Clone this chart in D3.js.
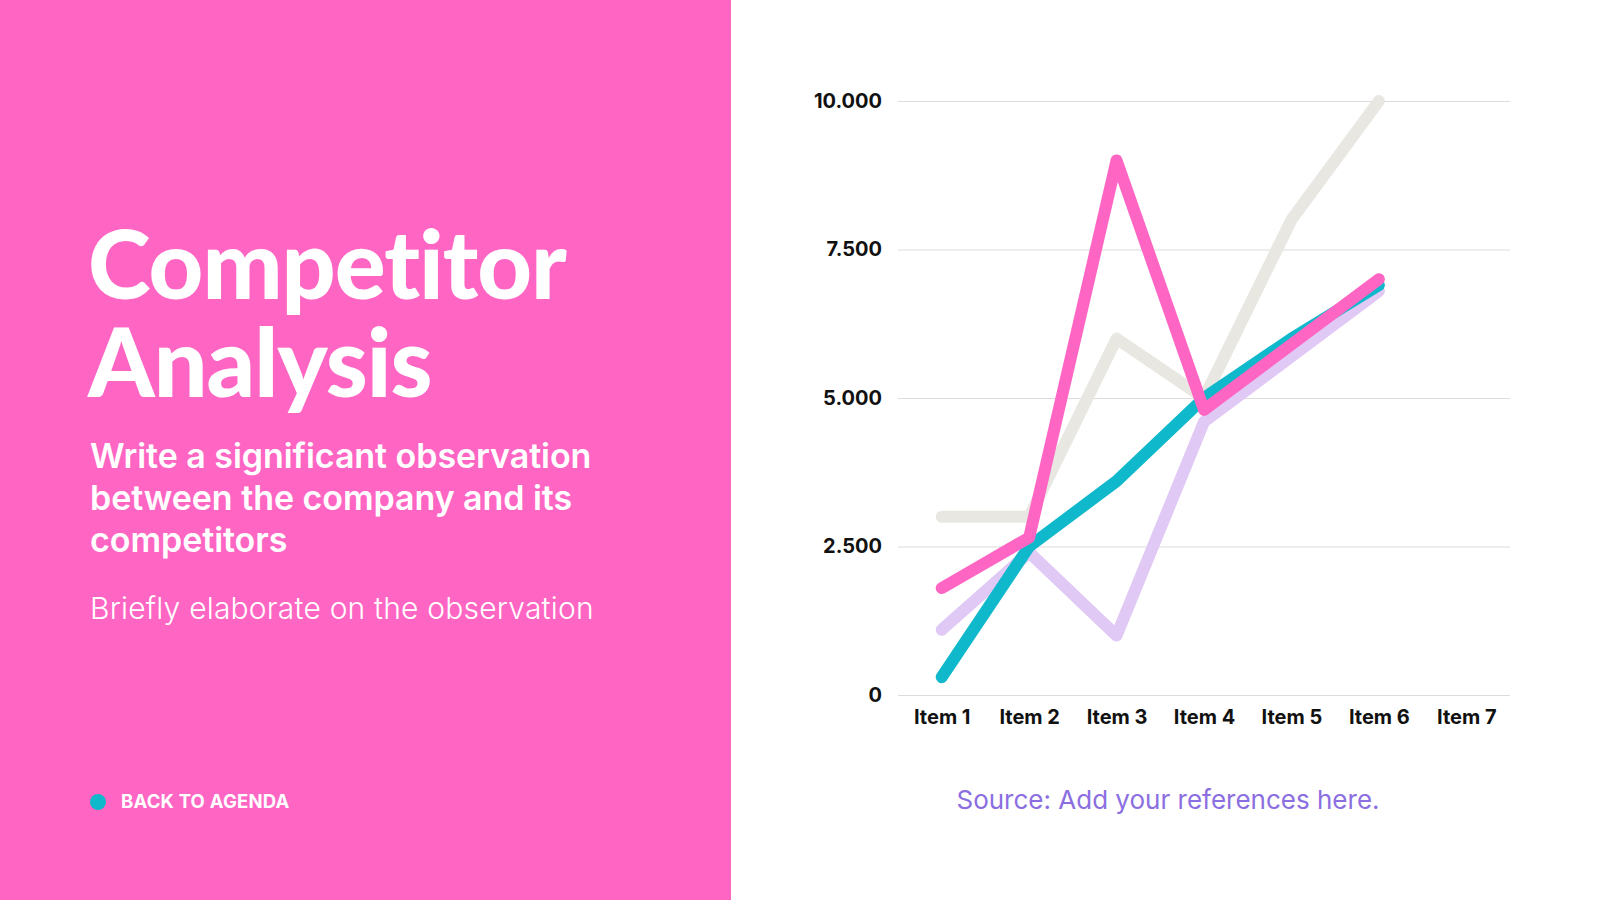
<!DOCTYPE html>
<html lang="en">
  <head>
    <meta charset="UTF-8" />
    <title>Competitor Analysis</title>
    <script src="https://d3js.org/d3.v7.min.js"></script>
    <style>
      html,
      body {
        margin: 0;
        padding: 0;
        background: #ffffff;
      }
      svg {
        display: block;
      }
      .axis text {
        font-family: Inter, "Liberation Sans", sans-serif;
        font-weight: 700;
        font-size: 20px;
        fill: #111111;
      }
      .grid line {
        stroke: #dcdcdc;
        stroke-width: 1.2px;
      }
      .series {
        fill: none;
        stroke-width: 12px;
        stroke-linecap: round;
        stroke-linejoin: round;
      }
    </style>
  </head>
  <body>
    <svg id="chart" width="1600" height="900"></svg>

    <script>
      // chart data
      const categories = ["Item 1", "Item 2", "Item 3", "Item 4", "Item 5", "Item 6", "Item 7"];
      const yTicks = [0, 2500, 5000, 7500, 10000];
      const seriesGray = [3000, 3000, 6000, 5000, 8000, 10000];
      const seriesLavender = [1100, 2400, 1000, 4600, 5700, 6800];
      const seriesCyan = [300, 2500, 3600, 5000, 6000, 6900];
      const seriesPink = [1800, 2650, 9000, 4800, 5900, 7000];

      const series = [
        { name: "gray", values: seriesGray, color: "#e9e7e2" },
        { name: "lavender", values: seriesLavender, color: "#e0c9f5" },
        { name: "cyan", values: seriesCyan, color: "#10b8cc" },
        { name: "pink", values: seriesPink, color: "#ff66c4" },
      ];

      const svg = d3.select("#chart");

      // left panel
      svg.append("rect")
        .attr("x", 0)
        .attr("y", 0)
        .attr("width", 731)
        .attr("height", 900)
        .attr("fill", "#ff66c4");

      const title = svg.append("text")
        .attr("fill", "#ffffff")
        .style("font-family", "Lato, 'Open Sans', sans-serif")
        .style("font-weight", 900)
        .style("font-size", "95px")
        .style("letter-spacing", "-1px");
      title.append("tspan").attr("x", 88).attr("y", 299).text("Competitor");
      title.append("tspan").attr("x", 88).attr("y", 397).text("Analysis");

      const sub = svg.append("text")
        .attr("fill", "#ffffff")
        .style("font-family", "Inter, 'Open Sans', sans-serif")
        .style("font-weight", 600)
        .style("font-size", "34px")
        .style("letter-spacing", "-0.05px");
      ["Write a significant observation", "between the company and its", "competitors"].forEach((t, i) => {
        sub.append("tspan").attr("x", 90).attr("y", 468 + i * 42).text(t);
      });

      svg.append("text")
        .attr("x", 90)
        .attr("y", 619)
        .attr("fill", "#ffffff")
        .style("font-family", "Inter, 'Open Sans', sans-serif")
        .style("font-weight", 300)
        .style("font-size", "30px")
        .style("letter-spacing", "0.2px")
        .text("Briefly elaborate on the observation");

      svg.append("circle")
        .attr("cx", 98)
        .attr("cy", 802)
        .attr("r", 8)
        .attr("fill", "#10b8cc");

      svg.append("text")
        .attr("x", 121)
        .attr("y", 808)
        .attr("fill", "#ffffff")
        .style("font-family", "Inter, 'Open Sans', sans-serif")
        .style("font-weight", 700)
        .style("font-size", "18.5px")
        .style("letter-spacing", "0.2px")
        .text("BACK TO AGENDA");

      // chart
      const margin = { left: 898, right: 90, top: 101, bottom: 205 };
      const plotW = 1600 - margin.left - margin.right;
      const plotH = 900 - margin.top - margin.bottom;
      const g = svg.append("g").attr("transform", `translate(${margin.left},${margin.top})`);

      const x = d3.scalePoint().domain(categories).range([0, plotW]).padding(0.5);
      const y = d3.scaleLinear().domain([0, 10000]).range([plotH, 0]);

      const locale = d3.formatLocale({ decimal: ",", thousands: ".", grouping: [3], currency: ["", ""] });
      const fmt = locale.format(",.0f");

      // y axis with grid lines
      g.append("g")
        .attr("class", "axis grid")
        .call(d3.axisLeft(y).tickValues(yTicks).tickFormat(fmt).tickSize(-plotW).tickPadding(16))
        .call((a) => a.select(".domain").remove());

      // x axis
      g.append("g")
        .attr("class", "axis")
        .attr("transform", `translate(0,${plotH})`)
        .call(d3.axisBottom(x).tickSize(0).tickPadding(15))
        .call((a) => a.select(".domain").remove());

      const line = d3.line()
        .x((d, i) => x(categories[i]))
        .y((d) => y(d));

      g.selectAll("path.series")
        .data(series)
        .join("path")
        .attr("class", "series")
        .attr("stroke", (d) => d.color)
        .attr("d", (d) => line(d.values));

      svg.append("text")
        .attr("x", 1168)
        .attr("y", 809)
        .attr("text-anchor", "middle")
        .attr("fill", "#8b6ee0")
        .style("font-family", "Inter, 'Open Sans', sans-serif")
        .style("font-weight", 400)
        .style("font-size", "26px")
        .text("Source: Add your references here.");
    </script>
  </body>
</html>
